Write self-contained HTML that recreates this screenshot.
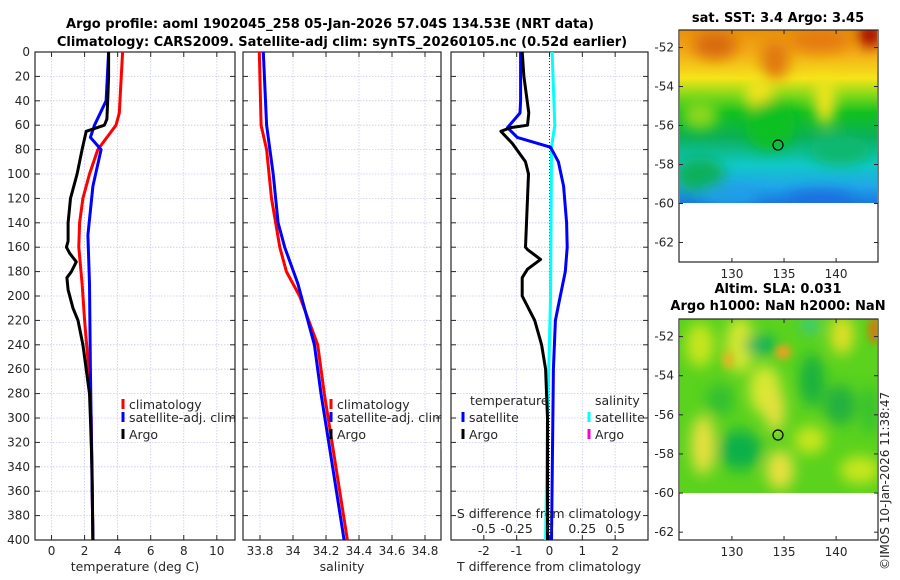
<!DOCTYPE html>
<html><head><meta charset="utf-8">
<style>
body{margin:0;background:#fff;font-family:"DejaVu Sans","Liberation Sans",sans-serif;}
svg{display:block}
text{font-family:"DejaVu Sans","Liberation Sans",sans-serif;fill:#262626}
</style></head>
<body>
<svg id="fig" width="900" height="580" viewBox="0 0 900 580" xmlns="http://www.w3.org/2000/svg">
<defs>
<filter id="blur8" x="-20%" y="-20%" width="140%" height="140%"><feGaussianBlur stdDeviation="7"/></filter>
<filter id="blur4"><feGaussianBlur stdDeviation="4"/></filter>
<clipPath id="clipTop"><rect x="680" y="30" width="197" height="173"/></clipPath>
<clipPath id="clipBot"><rect x="680" y="319" width="197" height="174"/></clipPath>
<linearGradient id="sstGrad" x1="0" y1="0" x2="0" y2="1">
<stop offset="0" stop-color="#e8920a"/><stop offset="0.12" stop-color="#f3a818"/><stop offset="0.28" stop-color="#f5e41a"/>
<stop offset="0.38" stop-color="#7ed81a"/><stop offset="0.48" stop-color="#10c020"/><stop offset="0.62" stop-color="#0cb058"/>
<stop offset="0.78" stop-color="#10c8c8"/><stop offset="0.9" stop-color="#20a8e8"/><stop offset="1" stop-color="#1a78e0"/>
</linearGradient>
</defs>
<text x="330" y="28" text-anchor="middle" font-size="13" font-weight="bold" style="fill:#000">Argo profile: aoml 1902045_258 05-Jan-2026 57.04S 134.53E (NRT data)</text>
<text x="342" y="46" text-anchor="middle" font-size="13" font-weight="bold" style="fill:#000">Climatology: CARS2009. Satellite-adj clim: synTS_20260105.nc (0.52d earlier)</text>
<g id="panels"></g>
<g id="maps"></g>
<text transform="translate(889,570) rotate(-90)" font-size="12">©IMOS 10-Jan-2026 11:38:47</text>
</svg>
<script>
// ---------- data ----------
const depthTicks=[0,20,40,60,80,100,120,140,160,180,200,220,240,260,280,300,320,340,360,380,400];
const tempTicks=[0,2,4,6,8,10];
const salTicks=[33.8,34,34.2,34.4,34.6,34.8];
const salTickLabels=["33.8","34","34.2","34.4","34.6","34.8"];
const tdTicks=[-2,-1,0,1,2];
const sdTicks=[-0.5,-0.25,0,0.25,0.5];
const sdTickLabels=["-0.5","-0.25","0","0.25","0.5"];

const argoTDepth=[0,20,40,55,60,65,80,100,120,140,155,160,165,172,180,185,195,210,220,240,260,280,300,340,400];
const argoT=[3.45,3.45,3.4,3.35,3.2,2.1,1.85,1.55,1.15,1.0,1.0,0.9,1.1,1.5,1.2,0.93,1.0,1.3,1.6,1.9,2.1,2.3,2.35,2.45,2.5];
const climTDepth=[0,50,60,80,100,120,140,160,190,220,260,300,400];
const climT=[4.3,4.1,3.9,2.8,2.3,1.9,1.7,1.65,1.85,2.0,2.25,2.4,2.5];
const satTDepth=[0,40,60,70,80,110,150,190,260,400];
const satT=[3.45,3.3,2.6,2.35,3.0,2.5,2.2,2.3,2.35,2.5];

const climSDepth=[0,60,80,120,160,180,200,240,280,340,400];
const climS=[33.796,33.807,33.84,33.87,33.92,33.96,34.04,34.15,34.19,34.26,34.33];
const satSDepth=[0,60,100,140,160,190,200,240,280,340,400];
const satS=[33.82,33.84,33.88,33.91,33.95,34.03,34.05,34.13,34.17,34.24,34.31];

const argoTdDepth=[0,20,50,60,62,65,75,90,100,140,160,162,170,178,185,200,220,240,260,300,400];
const argoTd=[-0.83,-0.78,-0.63,-0.67,-1.18,-1.48,-1.13,-0.73,-0.64,-0.7,-0.73,-0.67,-0.27,-0.67,-0.83,-0.83,-0.45,-0.24,-0.12,-0.06,-0.06];
const satTdDepth=[0,40,50,62,70,78,90,110,140,160,180,200,220,260,400];
const satTd=[-0.88,-0.88,-0.9,-1.28,-0.98,0.03,0.27,0.43,0.52,0.54,0.48,0.33,0.18,0.12,0.06];
const satSdDepth=[0,60,78,200,300,400];
const satSd=[0.02,0.04,0.015,0.008,-0.015,-0.03];

const latTicks=[-52,-54,-56,-58,-60,-62];
const lonTicks=[130,135,140];

// ---------- helpers ----------
const NS="http://www.w3.org/2000/svg";
function mk(tag,attrs,parent){const e=document.createElementNS(NS,tag);for(const k in attrs)e.setAttribute(k,attrs[k]);parent.appendChild(e);return e;}
const Y0=52,Y1=540;
const yD=d=>Y0+(Y1-Y0)*d/400;
const panels=document.getElementById('panels');

function axisPanel(name,x0,x1,dmin,dmax,ticks,labels,showDepth){
  const sx=v=>x0+(x1-x0)*(v-dmin)/(dmax-dmin);
  const g=mk('g',{},panels);
  
  
  ticks.forEach((t,i)=>{
    const gl=mk('line',{x1:sx(t),x2:sx(t),y1:Y0,y2:Y1,stroke:'#c8cbe8','stroke-width':0.8,'stroke-dasharray':'1.5,1.5'},g);
    
    
    mk('line',{x1:sx(t),x2:sx(t),y1:Y1,y2:Y1-5,stroke:'#262626'},g);
    mk('line',{x1:sx(t),x2:sx(t),y1:Y0,y2:Y0+5,stroke:'#262626'},g);
    const tl=mk('text',{x:sx(t),y:Y1+15,'text-anchor':'middle','font-size':12},g);
    tl.textContent=labels?labels[i]:String(t);
    
    
  });
  depthTicks.forEach(d=>{
    const gl=mk('line',{x1:x0,x2:x1,y1:yD(d),y2:yD(d),stroke:'#c8cbe8','stroke-width':0.8,'stroke-dasharray':'1.5,1.5'},g);
    
    
    mk('line',{x1:x0,x2:x0+5,y1:yD(d),y2:yD(d),stroke:'#262626'},g);
    mk('line',{x1:x1,x2:x1-5,y1:yD(d),y2:yD(d),stroke:'#262626'},g);
    if(showDepth){
      const tl=mk('text',{x:x0-5,y:yD(d)+4,'text-anchor':'end','font-size':12},g);
      tl.textContent=String(d);
      
      
    }
  });
  mk('rect',{x:x0,y:Y0,width:x1-x0,height:Y1-Y0,fill:'none',stroke:'#262626','stroke-width':1.2},g);
  return sx;
}
function series(name,sx,depths,vals,color,w){
  const pts=depths.map((d,i)=>sx(vals[i]).toFixed(1)+','+yD(d).toFixed(1)).join(' ');
  const p=mk('polyline',{points:pts,fill:'none',stroke:color,'stroke-width':w||3,'stroke-linejoin':'round'},panels);
  
  
}
function label(txt,x,y,name,anchor){
  const t=mk('text',{x:x,y:y,'font-size':12.5,'text-anchor':anchor||'start'},panels);
  t.textContent=txt;
  
  
}
function legendEntry(name,x,y,color,txt){
  const g=mk('g',{},panels);
  
  
  mk('line',{x1:x,x2:x,y1:y-10,y2:y,stroke:color,'stroke-width':3},g);
  const t=mk('text',{x:x+6,y:y,'font-size':12.5},g);t.textContent=txt;
}

// Panel 1 temperature
const sxT=axisPanel('temperature',35,235,-1,11.1,tempTicks,null,true);
series('climatology-temp-line',sxT,climTDepth,climT,'#ff0000');
series('satellite-temp-line',sxT,satTDepth,satT,'#0000ff');
series('argo-temp-line',sxT,argoTDepth,argoT,'#000000');
label('temperature (deg C)',135,571,'temperature-axis-title','middle');
legendEntry('legend-climatology',123,409,'#ff0000','climatology');
legendEntry('legend-satellite-adj',123,422,'#0000ff','satellite-adj. clim');
legendEntry('legend-argo',123,439,'#000000','Argo');

// Panel 2 salinity
const sxS=axisPanel('salinity',243,441,33.697,34.897,salTicks,salTickLabels,false);
series('climatology-sal-line',sxS,climSDepth,climS,'#ff0000');
series('satellite-sal-line',sxS,satSDepth,satS,'#0000ff');
label('salinity',342,571,'salinity-axis-title','middle');
legendEntry('legend-sal-climatology',331,409,'#ff0000','climatology');
legendEntry('legend-sal-satellite-adj',331,422,'#0000ff','satellite-adj. clim');
legendEntry('legend-sal-argo',331,439,'#000000','Argo');
const cover=mk('rect',{x:441.6,y:380,width:8.8,height:70,fill:'#fff'},panels);

// Panel 3 difference
const sxD=axisPanel('difference',451,648,-3,3,tdTicks,null,false);
const sxSd=v=>451+197*(v+0.75)/1.5;
const zl=mk('line',{x1:sxD(0),x2:sxD(0),y1:Y0,y2:Y1,stroke:'#333','stroke-width':1,'stroke-dasharray':'1,2'},panels);

series('satellite-sal-diff-line',sxSd,satSdDepth,satSd,'#00ffff');
series('satellite-temp-diff-line',sxD,satTdDepth,satTd,'#0000ff');
series('argo-temp-diff-line',sxD,argoTdDepth,argoTd,'#000000');
label('T difference from climatology',549,571,'t-diff-axis-title','middle');
label('S difference from climatology',549,518,'s-diff-axis-title','middle');
sdTicks.forEach((v,i)=>label(sdTickLabels[i],sxSd(v),533,'s-diff-tick-label','middle'));
label('temperature',470,405,'legend-temperature-header');
label('salinity',595,405,'legend-salinity-header');
legendEntry('legend-td-satellite',463,422,'#0000ff','satellite');
legendEntry('legend-td-argo',463,439,'#000000','Argo');
legendEntry('legend-sd-satellite',589,422,'#00ffff','satellite');
legendEntry('legend-sd-argo',589,439,'#ff00cc','Argo');

// ---------- maps ----------
const maps=document.getElementById('maps');
function mapAxes(name,top,bot,latTop,latBot,title1,title2){
  const x0=679,x1=878,lon0=125.4,lon1=144.5;
  const sy=l=>top+(bot-top)*(latTop-l)/(latTop-latBot);
  const sx=l=>x0+(x1-x0)*(l-lon0)/(lon1-lon0);
  const g=mk('g',{},maps);
  
  
  mk('rect',{x:x0,y:top,width:x1-x0,height:bot-top,fill:'none',stroke:'#262626','stroke-width':1.2},g);
  latTicks.forEach(l=>{
    mk('line',{x1:x0,x2:x0+4,y1:sy(l),y2:sy(l),stroke:'#262626'},g);
    mk('line',{x1:x1,x2:x1-4,y1:sy(l),y2:sy(l),stroke:'#262626'},g);
    const t=mk('text',{x:x0-5,y:sy(l)+4,'text-anchor':'end','font-size':12},g);t.textContent=String(l);
  });
  lonTicks.forEach(l=>{
    mk('line',{x1:sx(l)+5,x2:sx(l)+5,y1:bot,y2:bot-4,stroke:'#262626'},g);
    mk('line',{x1:sx(l)+5,x2:sx(l)+5,y1:top,y2:top+4,stroke:'#262626'},g);
    const t=mk('text',{x:sx(l)+5,y:bot+16,'text-anchor':'middle','font-size':12},g);t.textContent=String(l);
  });
  const t1=mk('text',{x:778,y:top-(title2?26:8),'text-anchor':'middle','font-size':13,'font-weight':'bold',style:'fill:#000'},maps);
  t1.textContent=title1;
  
  
  if(title2){const t2=mk('text',{x:778,y:top-9,'text-anchor':'middle','font-size':13,'font-weight':'bold',style:'fill:#000'},maps);t2.textContent=title2;
    
    }
}
// SST map image
const sst=mk('g',{'clip-path':'url(#clipTop)'},maps);


mk('rect',{x:680,y:30,width:197,height:173,fill:'url(#sstGrad)'},sst);
const sb=mk('g',{filter:'url(#blur8)'},sst);
[[715,45,22,14,'#d86a10'],[775,60,14,20,'#e07810'],[820,40,30,12,'#e47a10'],[870,35,12,12,'#a00000'],
 [760,95,14,18,'#f5e41a'],[825,100,10,25,'#f5e41a'],[700,115,18,14,'#8ed81a'],[770,125,25,25,'#10c020'],
 [840,150,30,15,'#0cb870'],[700,175,25,18,'#0cb058'],[820,200,35,10,'#1a70e0'],[730,195,30,10,'#20a0e8']]
 .forEach(a=>mk('ellipse',{cx:a[0],cy:a[1],rx:a[2],ry:a[3],fill:a[4]},sb));
mk('circle',{cx:778,cy:145,r:5,fill:'none',stroke:'#000','stroke-width':1.2},maps);
mapAxes('sst-map',30,262,-51.1,-63,'sat. SST: 3.4 Argo: 3.45',null);

// SLA map image
const sla=mk('g',{'clip-path':'url(#clipBot)'},maps);


mk('rect',{x:680,y:319,width:197,height:174,fill:'#5ad21e'},sla);
const bb=mk('g',{filter:'url(#blur8)'},sla);
[[700,345,14,22,'#c8e61e'],[740,345,14,28,'#d8e830'],[765,390,16,25,'#d8e830'],[775,410,10,22,'#e8e040'],[703,445,12,30,'#e8e040'],
 [780,470,14,20,'#e8e040'],[842,335,12,20,'#e0e028'],[810,440,16,14,'#c8e61e'],[860,470,20,14,'#c8e61e'],
 [760,345,16,10,'#00b060'],[812,380,12,26,'#18b040'],[740,450,22,20,'#10b048'],[840,405,16,20,'#20b040'],
 [720,400,14,16,'#30c030'],[870,410,8,25,'#30c030'],[810,326,8,6,'#20c8c0']]
 .forEach(a=>mk('ellipse',{cx:a[0],cy:a[1],rx:a[2],ry:a[3],fill:a[4]},bb));
const hot=mk('g',{filter:'url(#blur4)'},sla);
[[783,352,8,7,'#f0a020'],[728,360,5,9,'#f0b020'],[874,330,5,14,'#e07010']].forEach(a=>mk('ellipse',{cx:a[0],cy:a[1],rx:a[2],ry:a[3],fill:a[4]},hot));
mk('circle',{cx:778,cy:435,r:5,fill:'none',stroke:'#000','stroke-width':1.2},maps);
mapAxes('sla-map',319,540,-51.1,-62.4,'Altim. SLA: 0.031','Argo h1000: NaN h2000: NaN');
</script>
</body></html>
